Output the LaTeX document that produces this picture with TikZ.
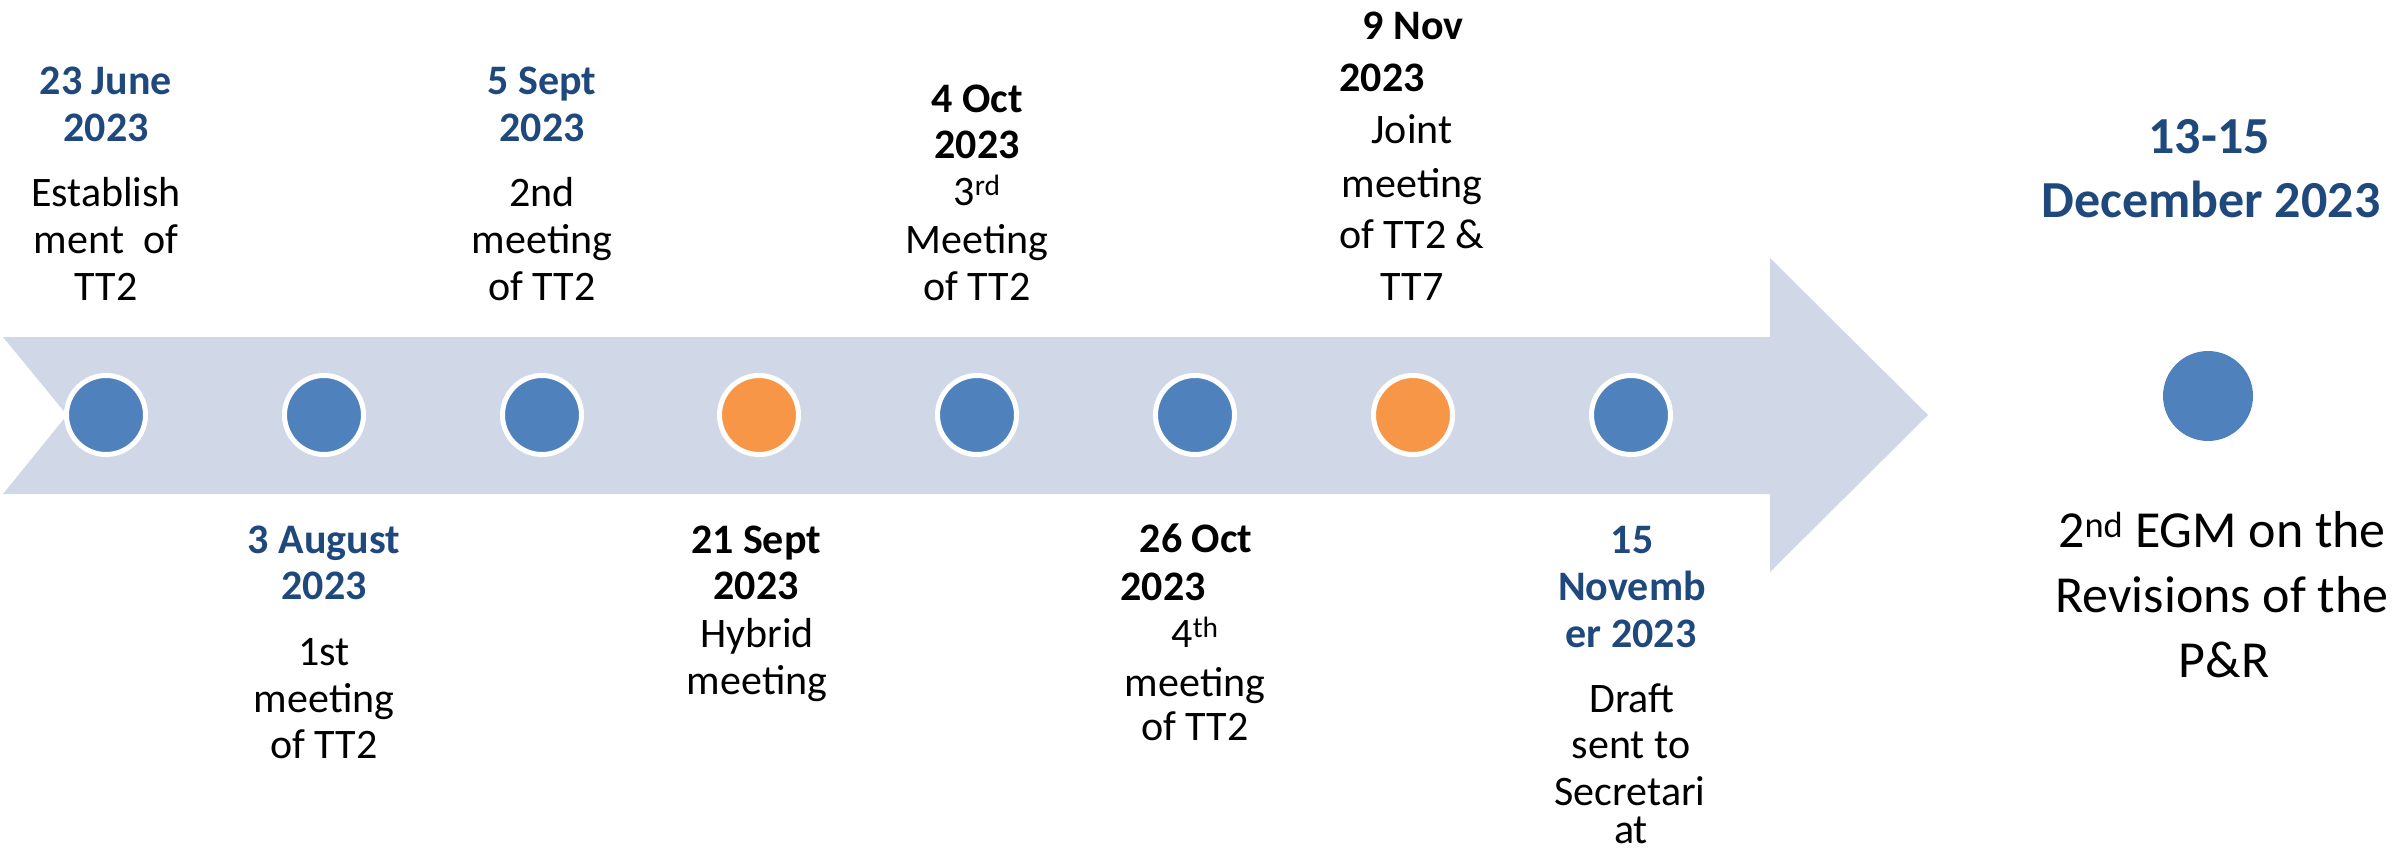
\documentclass[tikz,border=0pt]{standalone}
\usepackage{fontspec}
\setmainfont{Carlito}
\definecolor{arrowfill}{HTML}{D0D8E8}
\definecolor{evblue}{HTML}{4F81BD}
\definecolor{evorange}{HTML}{F79646}
\definecolor{dateblue}{HTML}{1F497D}
\tikzset{
  lbl/.style={anchor=base, inner sep=0pt, font=\fontsize{42}{50}\selectfont},
  dblue/.style={lbl, font=\fontsize{42}{50}\selectfont\bfseries, text=dateblue},
  dblack/.style={lbl, font=\fontsize{42}{50}\selectfont\bfseries, text=black},
  bigdate/.style={anchor=base, inner sep=0pt, font=\fontsize{52}{62}\selectfont\bfseries, text=dateblue},
  bigtxt/.style={anchor=base, inner sep=0pt, font=\fontsize{52}{62}\selectfont},
  evt/.style={circle, fill=evblue, draw=white, line width=5pt, minimum size=79pt, inner sep=0pt},
  hyb/.style={evt, fill=evorange},
  final/.style={circle, fill=evblue, minimum size=90pt, inner sep=0pt}
}
\begin{document}
\begin{tikzpicture}[x=1pt,y=-1pt]
\useasboundingbox (0,0) rectangle (2397,853);
\clip (0,0) rectangle (2397,853);
% arrow
\fill[arrowfill] (3,337) -- (1770,337) -- (1770,258) -- (1928,415) -- (1770,572)
  -- (1770,494) -- (3,494) -- (67,415) -- cycle;
% circles
\node[evt] (c1) at (106,415) {};
\node[evt] (c2) at (324,415) {};
\node[evt] (c3) at (542,415) {};
\node[hyb] (c4) at (759,415) {};
\node[evt] (c5) at (977,415) {};
\node[evt] (c6) at (1195,415) {};
\node[hyb] (c7) at (1413,415) {};
\node[evt] (c8) at (1631,415) {};
\node[final] (c9) at (2208,396) {};
% block 1
\node[dblue] (d1a) at (106,95) {23 June};
\node[dblue] (d1b) at (106,142) {2023};
\node[lbl] (t1a) at (106,207) {Establish};
\node[lbl] (t1b) at (106,253) {ment~ of};
\node[lbl] (t1c) at (106,300) {TT2};
% block 2
\node[dblue] (d2a) at (324,553) {3 August};
\node[dblue] (d2b) at (324,599) {2023};
\node[lbl] (t2a) at (324,665) {1st};
\node[lbl] (t2b) at (324,712) {meeting};
\node[lbl] (t2c) at (324,758) {of TT2};
% block 3
\node[dblue] (d3a) at (542,95) {5 Sept};
\node[dblue] (d3b) at (542,142) {2023};
\node[lbl] (t3a) at (542,207) {2nd};
\node[lbl] (t3b) at (542,253) {meeting};
\node[lbl] (t3c) at (542,300) {of TT2};
% block 4
\node[dblack] (d4a) at (756,553) {21 Sept};
\node[dblack] (d4b) at (756,599) {2023};
\node[lbl] (t4a) at (757,647) {Hybrid};
\node[lbl] (t4b) at (757,694) {meeting};
% block 5
\node[dblack] (d5a) at (977,113) {4 Oct};
\node[dblack] (d5b) at (977,159) {2023};
\node[lbl] (t5a) at (977,205) {3\textsuperscript{rd}};
\node[lbl] (t5b) at (977,253) {Meeting};
\node[lbl] (t5c) at (977,300) {of TT2};
% block 6
\node[dblack] (d6a) at (1196,552) {26 Oct};
\node[dblack] (d6b) at (1163,600) {2023};
\node[lbl] (t6a) at (1195,647) {4\textsuperscript{th}};
\node[lbl] (t6b) at (1195,696) {meeting};
\node[lbl] (t6c) at (1195,740) {of TT2};
% block 7
\node[dblack] (d7a) at (1413,40) {9 Nov};
\node[dblack] (d7b) at (1382,92) {2023};
\node[lbl] (t7a) at (1412,144) {Joint};
\node[lbl] (t7b) at (1412,197) {meeting};
\node[lbl] (t7c) at (1412,248) {of TT2 \&};
\node[lbl] (t7d) at (1412,300) {TT7};
% block 8
\node[dblue] (d8a) at (1632,553) {15};
\node[dblue] (d8b) at (1632,600) {Novemb};
\node[dblue] (d8c) at (1631,647) {er 2023};
\node[lbl] (t8a) at (1632,712) {Draft};
\node[lbl] (t8b) at (1631,758) {sent to};
\node[lbl] (t8c) at (1630,805) {Secretari};
\node[lbl] (t8d) at (1631,843) {at};
% final block
\node[bigdate] (d9a) at (2209,154) {13-15};
\node[bigdate] (d9b) at (2211,218) {December 2023};
\node[bigtxt] (t9a) at (2222,547) {2\textsuperscript{nd} EGM on the};
\node[bigtxt] (t9b) at (2222,612) {Revisions of the};
\node[bigtxt] (t9c) at (2224,677) {P\&R};
\end{tikzpicture}
\end{document}
